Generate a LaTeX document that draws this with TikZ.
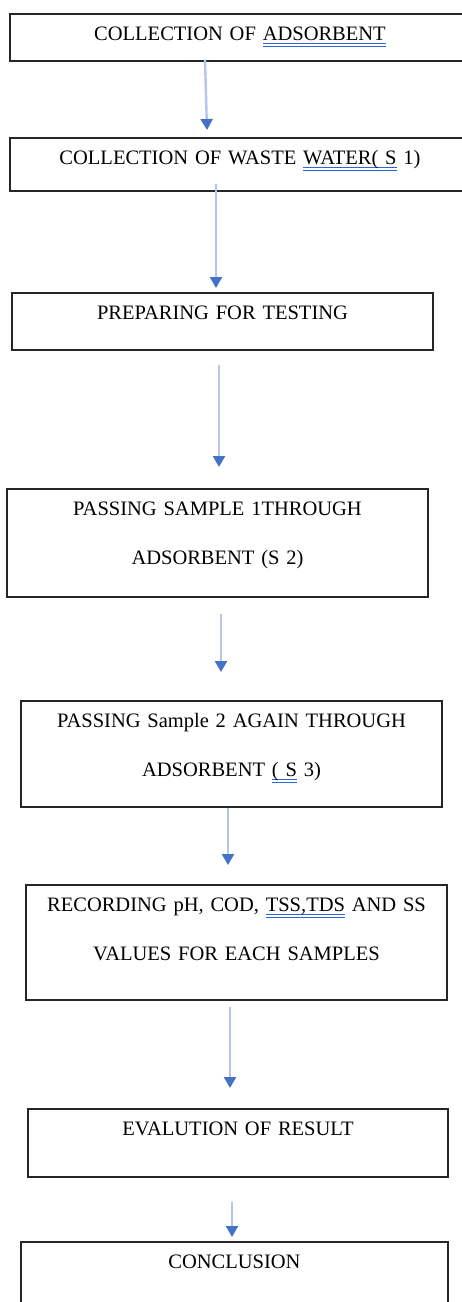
\documentclass[tikz,border=0pt]{standalone}
\usepackage{fontspec}
\setmainfont{Liberation Serif}
\usetikzlibrary{arrows.meta}
\definecolor{headblue}{HTML}{4472C4}
\definecolor{shaftblue}{HTML}{B4C7EA}
\definecolor{spellblue}{HTML}{2F66D6}
\newcommand{\spell}[1]{\setbox0\hbox{#1}\rlap{\color{spellblue}\rule[-3pt]{\wd0}{1.1pt}\hspace*{-\wd0}\rule[-6pt]{\wd0}{1.1pt}}\box0\relax}
\begin{document}
\begin{tikzpicture}[x=1pt,y=-1pt,
  stepbox/.style={draw=black!85,line width=1.6pt,rectangle,anchor=north,align=center,
    inner xsep=0pt,inner ysep=12pt,text height=15pt,
    font=\fontsize{20.5}{49}\selectfont},
  flow/.style={draw=shaftblue,line width=2.4pt,-{Triangle[length=11pt,width=12pt,color=headblue]}}]
\useasboundingbox[fill=white] (0,0) rectangle (462,1302);
\node[stepbox,text width=460pt,text depth=8pt] (s1) at (240,13) {COLLECTION OF \spell{ADSORBENT}};
\node[stepbox,text width=460pt,text depth=14pt] (s2) at (240,137) {COLLECTION OF WASTE \spell{WATER( S} 1)};
\node[stepbox,text width=421pt,text depth=18pt] (s3) at (222.5,292) {PREPARING FOR TESTING};
\node[stepbox,text width=421pt,text depth=69pt] (s4) at (217.5,488) {PASSING SAMPLE 1THROUGH\\ADSORBENT (S 2)};
\node[stepbox,text width=421pt,text depth=67pt] (s5) at (231.5,700) {PASSING Sample 2 AGAIN THROUGH\\ADSORBENT \spell{( S} 3)};
\node[stepbox,text width=421pt,text depth=76pt] (s6) at (236.5,884) {RECORDING pH, COD, \spell{TSS,TDS} AND SS\\VALUES FOR EACH SAMPLES};
\node[stepbox,text width=420pt,text depth=29pt] (s7) at (238,1108) {EVALUTION OF RESULT};
\node[stepbox,text width=427pt,text depth=40pt] (s8) at (234.5,1241) {CONCLUSION};
\draw[flow] ([xshift=-35pt,yshift=2pt]s1.south) -- ([xshift=-33pt,yshift=7pt]s2.north);
\draw[flow] ([xshift=-24pt,yshift=8pt]s2.south) -- ([xshift=-6.5pt,yshift=4pt]s3.north);
\draw[flow] ([xshift=-3.5pt,yshift=-14pt]s3.south) -- ([xshift=1.5pt,yshift=21pt]s4.north);
\draw[flow] ([xshift=3.5pt,yshift=-16pt]s4.south) -- ([xshift=-10.5pt,yshift=28pt]s5.north);
\draw[flow] ([xshift=-3.5pt,yshift=0pt]s5.south) -- ([xshift=-8.5pt,yshift=19pt]s6.north);
\draw[flow] ([xshift=-6.5pt,yshift=-6pt]s6.south) -- ([xshift=-8pt,yshift=20pt]s7.north);
\draw[flow] ([xshift=-6pt,yshift=-24pt]s7.south) -- ([xshift=-2.5pt,yshift=4pt]s8.north);
\end{tikzpicture}
\end{document}
